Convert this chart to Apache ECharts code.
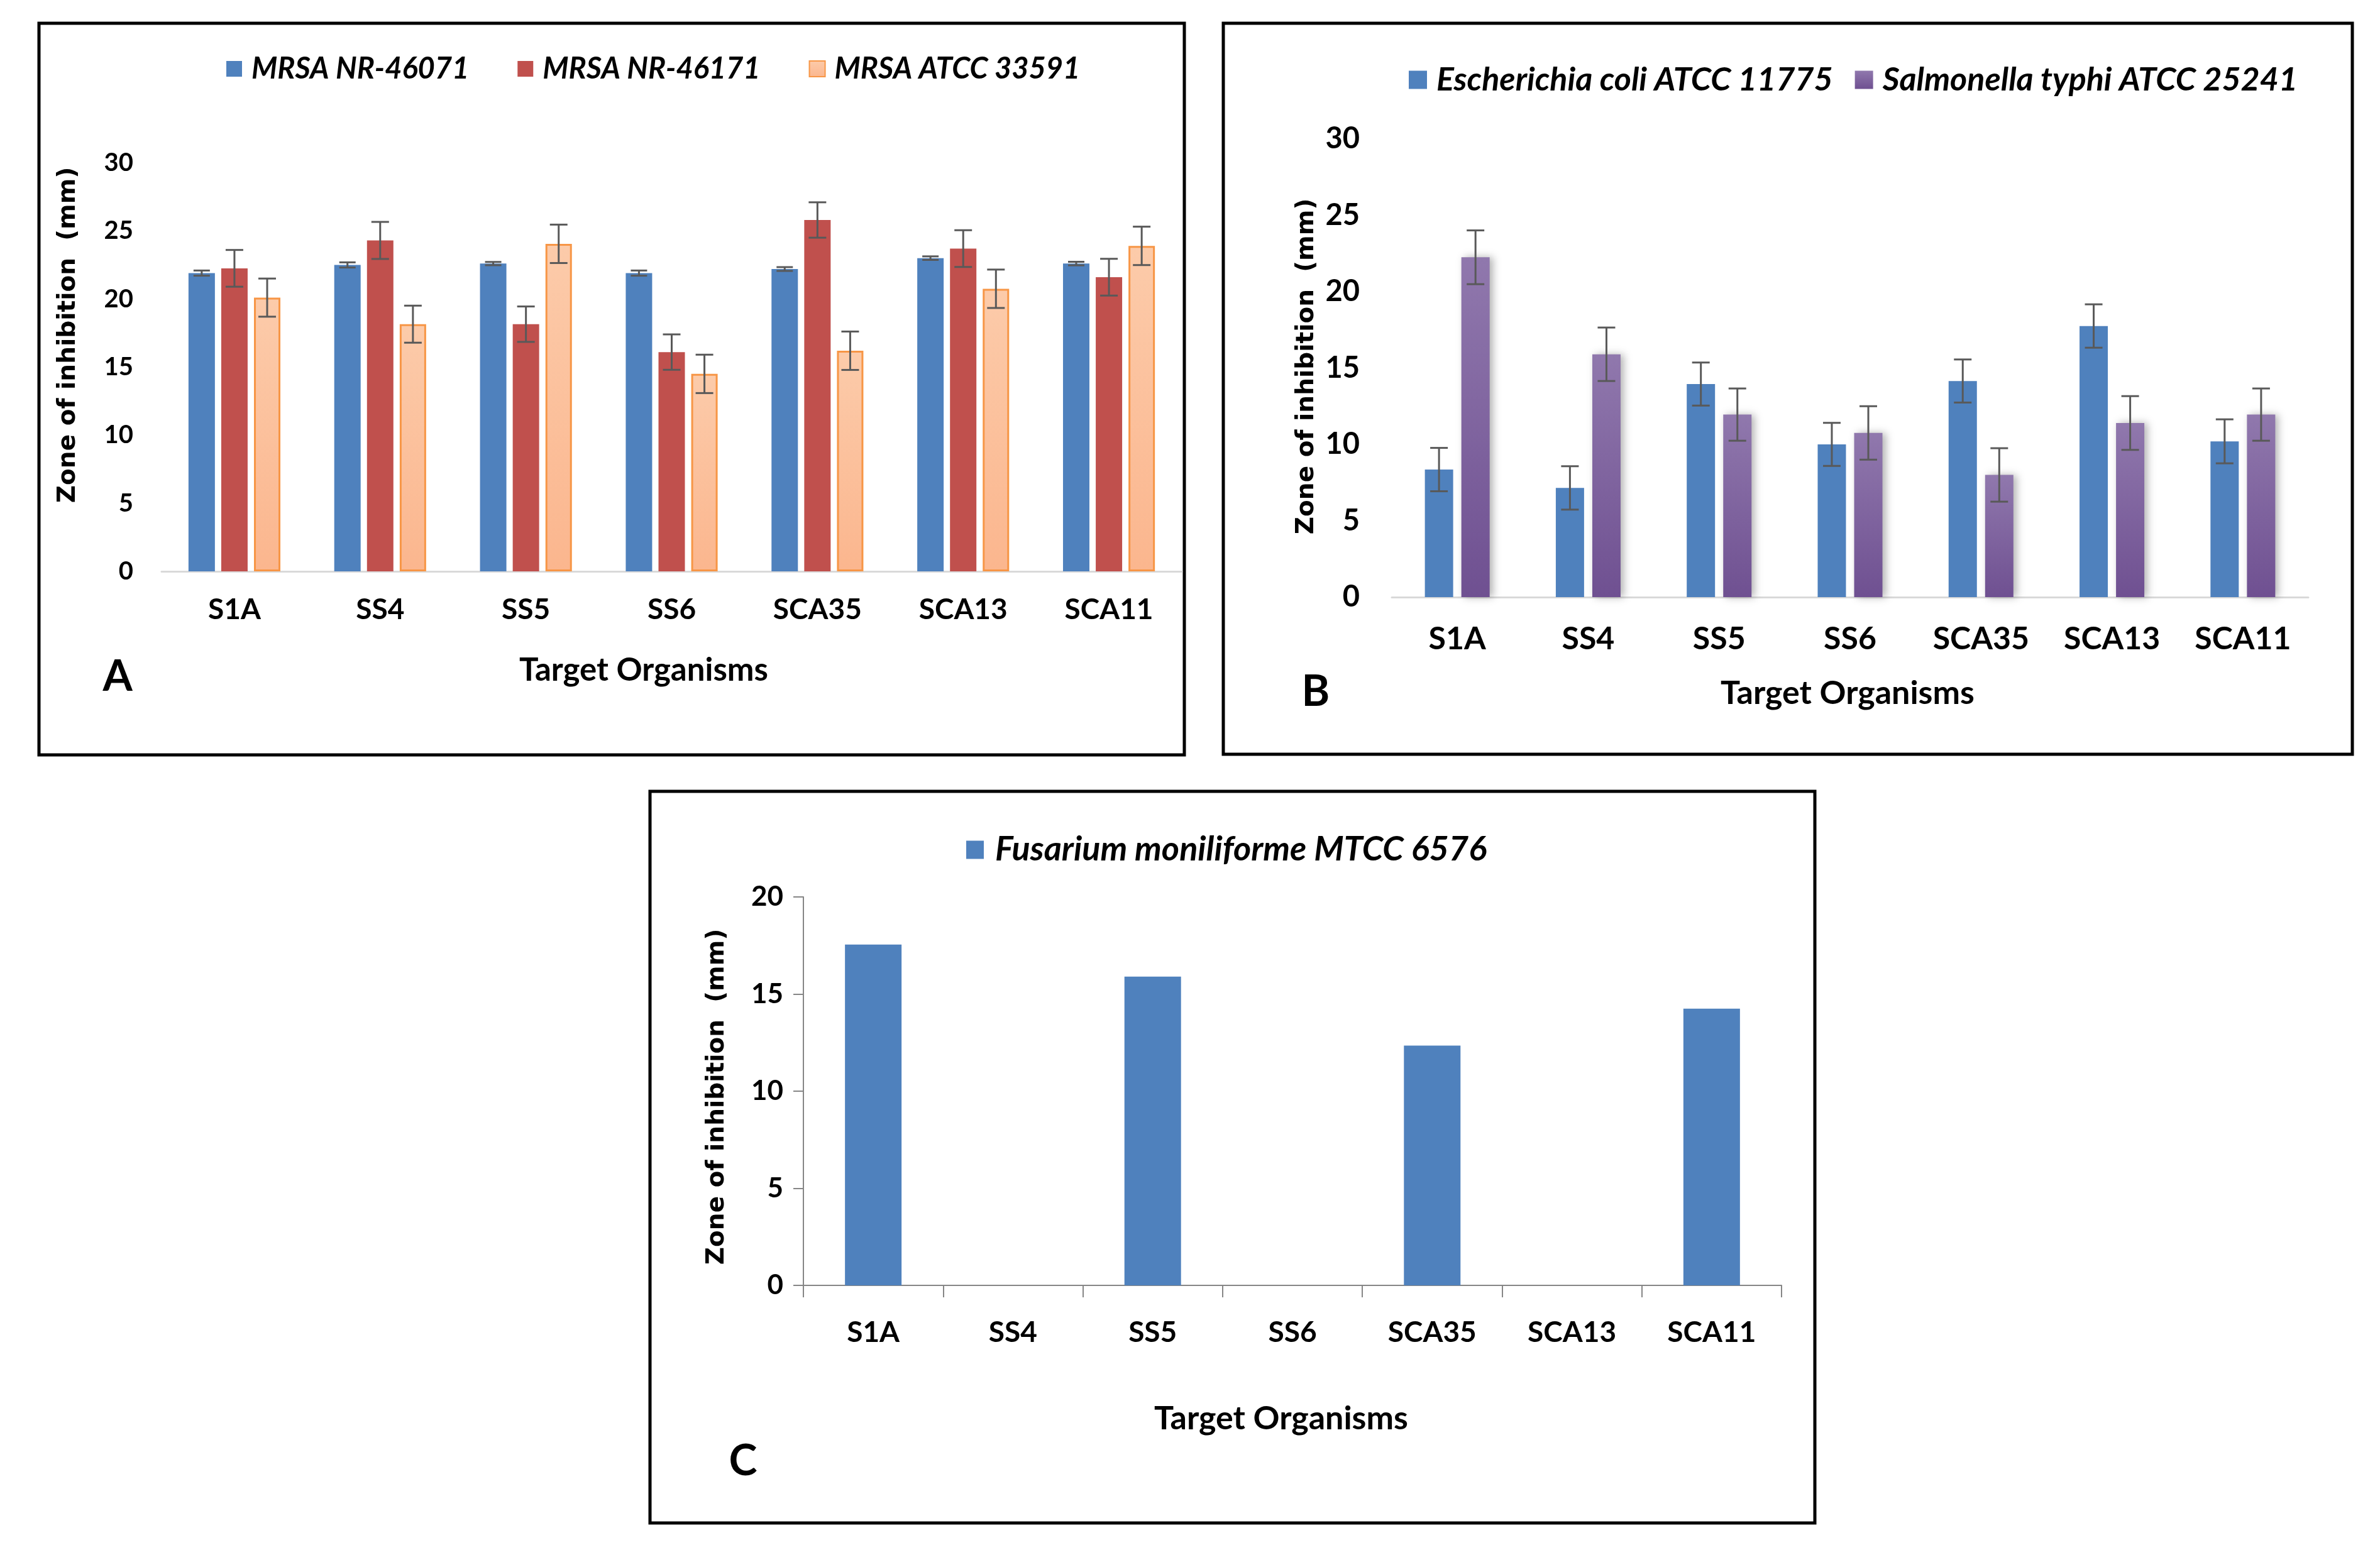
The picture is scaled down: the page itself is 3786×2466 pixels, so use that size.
<!DOCTYPE html>
<html>
<head>
<meta charset="utf-8">
<script src="https://cdn.jsdelivr.net/npm/echarts@6/dist/echarts.min.js"></script>
<style>html,body{margin:0;padding:0;background:#fff}#c{width:3786px;height:2466px}</style>
</head>
<body>
<div id="c"></div>
<script>
// ---- data ----
const categories = ['S1A', 'SS4', 'SS5', 'SS6', 'SCA35', 'SCA13', 'SCA11'];
const yTicksAB = [0, 5, 10, 15, 20, 25, 30];
const yTicksC = [0, 5, 10, 15, 20];

const mrsa46071 = [21.9, 22.5, 22.6, 21.9, 22.2, 23.0, 22.6];
const mrsa46071Err = [0.19, 0.19, 0.12, 0.19, 0.14, 0.13, 0.13];
const mrsa46171 = [22.25, 24.3, 18.15, 16.1, 25.8, 23.7, 21.6];
const mrsa46171Err = [1.35, 1.36, 1.3, 1.3, 1.3, 1.35, 1.35];
const mrsa33591 = [20.1, 18.15, 24.05, 14.5, 16.2, 20.75, 23.9];
const mrsa33591Err = [1.4, 1.36, 1.41, 1.41, 1.41, 1.41, 1.41];

const ecoli = [8.35, 7.15, 13.95, 10.0, 14.15, 17.75, 10.2];
const ecoliErr = [1.42, 1.42, 1.41, 1.41, 1.41, 1.42, 1.44];
const styphi = [22.25, 15.9, 11.95, 10.75, 8.0, 11.4, 11.95];
const styphiErr = [1.76, 1.75, 1.71, 1.75, 1.75, 1.76, 1.71];

const fusarium = [17.55, null, 15.9, null, 12.35, null, 14.25];

const seriesNamesA = ['MRSA NR-46071', 'MRSA NR-46171', 'MRSA ATCC 33591'];
const seriesNamesB = ['Escherichia coli ATCC 11775', 'Salmonella typhi ATCC 25241'];
const seriesNamesC = ['Fusarium moniliforme MTCC 6576'];

// ---- chart ----
const chart = echarts.init(document.getElementById('c'));
const FONT = 'Lato, "Open Sans", sans-serif';
const G = echarts.graphic;

function errSeries(vals, errs, axisIdx, offset, capW) {
  return {
    type: 'custom', xAxisIndex: axisIdx, yAxisIndex: axisIdx, z: 10, silent: true,
    data: vals.map((v, i) => [i, v, errs[i]]),
    renderItem: function (params, api) {
      const x = api.value(0), v = api.value(1), e = api.value(2);
      const top = api.coord([x, v + e]);
      const bot = api.coord([x, v - e]);
      const cx = top[0] + offset;
      const st = { stroke: '#595959', lineWidth: 3 };
      return {
        type: 'group', children: [
          { type: 'line', shape: { x1: cx, y1: top[1], x2: cx, y2: bot[1] }, style: st },
          { type: 'line', shape: { x1: cx - capW / 2, y1: top[1], x2: cx + capW / 2, y2: top[1] }, style: st },
          { type: 'line', shape: { x1: cx - capW / 2, y1: bot[1], x2: cx + capW / 2, y2: bot[1] }, style: st }
        ]
      };
    }
  };
}

function xAx(gridIndex, fontSize, margin, ticks) {
  return {
    type: 'category', gridIndex: gridIndex, data: categories,
    axisLine: { show: true, lineStyle: ticks ? { color: '#868686', width: 2 } : { color: '#D9D9D9', width: 3 } },
    axisTick: { show: !!ticks, length: 19, lineStyle: { color: '#868686', width: 2 } },
    axisLabel: { fontFamily: FONT, fontWeight: 'bold', fontSize: fontSize, color: '#000', margin: margin, interval: 0 },
    splitLine: { show: false }
  };
}
function yAx(gridIndex, max, fontSize, margin, ticks) {
  return {
    type: 'value', gridIndex: gridIndex, min: 0, max: max, interval: 5,
    axisLine: { show: !!ticks, lineStyle: { color: '#868686', width: 2 } },
    axisTick: { show: !!ticks, length: 16, lineStyle: { color: '#868686', width: 2 } },
    axisLabel: { fontFamily: FONT, fontWeight: 'bold', fontSize: fontSize, color: '#000', margin: margin },
    splitLine: { show: false }
  };
}

const blue = '#4F81BD';
const red = '#C0504D';
const orangeGrad = new G.LinearGradient(0, 0, 0, 1, [{ offset: 0, color: '#FCCBAA' }, { offset: 1, color: '#FBB68E' }]);
const purpleGrad = new G.LinearGradient(0, 0, 0, 1, [{ offset: 0, color: '#9078AD' }, { offset: 1, color: '#6F5091' }]);

function txt(x, y, text, size, opts) {
  opts = opts || {};
  return {
    type: 'text', x: x, y: y, rotation: opts.rot || 0, silent: true,
    style: {
      text: text, fill: '#000',
      font: (opts.italic ? 'italic ' : '') + 'bold ' + size + 'px ' + (opts.family || FONT),
      align: 'center', verticalAlign: 'middle', textAlign: 'center', textVerticalAlign: 'middle'
    }
  };
}
function box(x1, y1, x2, y2) {
  return { type: 'rect', silent: true, shape: { x: x1, y: y1, width: x2 - x1, height: y2 - y1 },
    style: { fill: 'none', stroke: '#000', lineWidth: 5 } };
}

const legendText = (size) => ({ fontFamily: FONT, fontWeight: 'bold', fontStyle: 'italic', fontSize: size, color: '#000', padding: [0, 0, 0, 10] });

const option = {
  backgroundColor: '#fff',
  animation: false,
  grid: [
    { left: 257, right: 3786 - 1880, top: 259, bottom: 2466 - 909 },
    { left: 2214, right: 3786 - 3672, top: 221, bottom: 2466 - 950 },
    { left: 1278, right: 3786 - 2834, top: 1427, bottom: 2466 - 2045 }
  ],
  xAxis: [xAx(0, 46, 38, false), xAx(1, 50, 42, false), xAx(2, 46, 52, true)],
  yAxis: [yAx(0, 30, 40, 45, false), yAx(1, 30, 47, 51, false), yAx(2, 20, 44, 32, true)],
  legend: [
    { data: seriesNamesA, left: 355, top: 81, itemWidth: 25, itemHeight: 25, itemGap: 77, icon: 'rect',
      textStyle: legendText(47) },
    { data: seriesNamesB, left: 2236, top: 96, itemWidth: 29, itemHeight: 29, itemGap: 35, icon: 'rect',
      textStyle: legendText(52) },
    { data: seriesNamesC, left: 1532, top: 1320, itemWidth: 28, itemHeight: 29, icon: 'rect',
      textStyle: Object.assign(legendText(54), { padding: [0, 0, 0, 13] }) }
  ],
  series: [
    { name: seriesNamesA[0], type: 'bar', xAxisIndex: 0, yAxisIndex: 0, data: mrsa46071, barWidth: 42, barGap: '24%',
      itemStyle: { color: blue } },
    { name: seriesNamesA[1], type: 'bar', xAxisIndex: 0, yAxisIndex: 0, data: mrsa46171, barWidth: 42, barGap: '24%',
      itemStyle: { color: red } },
    { name: seriesNamesA[2], type: 'bar', xAxisIndex: 0, yAxisIndex: 0, data: mrsa33591, barWidth: 42, barGap: '24%',
      itemStyle: { color: orangeGrad, borderColor: '#F79646', borderWidth: 3 } },
    errSeries(mrsa46071, mrsa46071Err, 0, -52.08, 26),
    errSeries(mrsa46171, mrsa46171Err, 0, 0, 28),
    errSeries(mrsa33591, mrsa33591Err, 0, 52.08, 28),

    { name: seriesNamesB[0], type: 'bar', xAxisIndex: 1, yAxisIndex: 1, data: ecoli, barWidth: 45, barGap: '29%',
      itemStyle: { color: blue } },
    { name: seriesNamesB[1], type: 'bar', xAxisIndex: 1, yAxisIndex: 1, data: styphi, barWidth: 45, barGap: '29%',
      itemStyle: { color: purpleGrad, shadowBlur: 12, shadowOffsetX: 5, shadowColor: 'rgba(0,0,0,0.3)' } },
    errSeries(ecoli, ecoliErr, 1, -29.03, 28),
    errSeries(styphi, styphiErr, 1, 29.03, 28),

    { name: seriesNamesC[0], type: 'bar', xAxisIndex: 2, yAxisIndex: 2, data: fusarium, barWidth: 90,
      itemStyle: { color: blue } }
  ],
  graphic: [
    box(62, 37, 1884, 1201),
    box(1946, 37, 3742, 1200),
    box(1034, 1259, 2887, 2423),
    txt(1024, 1067, 'Target Organisms', 51),
    txt(2939, 1103, 'Target Organisms', 52),
    txt(2038, 2257, 'Target Organisms', 52),
    txt(187, 1077, 'A', 68),
    txt(2093, 1101, 'B', 68),
    txt(1182, 2325, 'C', 68),
    txt(109, 533, 'Zone of inhibition  (mm)', 39, { rot: Math.PI / 2, family: '"DejaVu Sans", sans-serif' }),
    txt(2079, 583, 'Zone of inhibition  (mm)', 39, { rot: Math.PI / 2, family: '"DejaVu Sans", sans-serif' }),
    txt(1141, 1745, 'Zone of inhibition  (mm)', 39, { rot: Math.PI / 2, family: '"DejaVu Sans", sans-serif' })
  ]
};
chart.setOption(option);
</script>
</body>
</html>
